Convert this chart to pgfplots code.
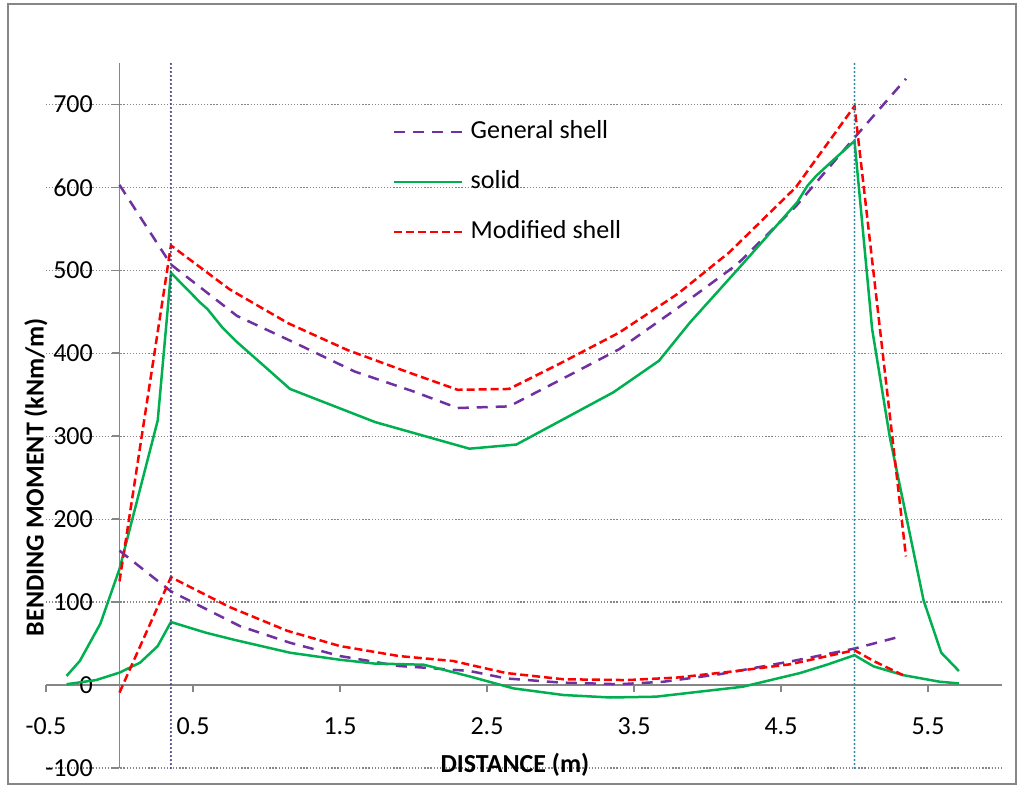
\documentclass[border=0pt]{standalone}
\usepackage{pgfplots}
\pgfplotsset{compat=1.18}
\usepackage{fontspec}
\setmainfont{Carlito}
\definecolor{gshell}{HTML}{7030A0}
\definecolor{solidc}{HTML}{00B050}
\definecolor{mshell}{HTML}{FF0000}
\definecolor{axgray}{HTML}{868686}
\definecolor{vlineA}{HTML}{45397E}
\definecolor{vlineB}{HTML}{31849B}
\begin{document}
\begin{tikzpicture}
\begin{axis}[
  x=147pt, y=0.8294pt,
  xmin=-0.5, xmax=6, ymin=-100, ymax=750,
  clip=false,
  axis lines=middle,
  axis line style={draw=axgray, line width=1.6pt, -},
  hide obscured x ticks=false, hide obscured y ticks=false,
  xtick={-0.5,0.5,1.5,2.5,3.5,4.5,5.5},
  xticklabels={-0.5,0.5,1.5,2.5,3.5,4.5,5.5},
  ytick={-100,0,100,200,300,400,500,600,700},
  yticklabels={-100,0,100,200,300,400,500,600,700},
  tick align=outside, major tick length=7pt,
  tick style={draw=axgray, line width=1.6pt},
  ymajorgrids,
  grid style={draw=axgray, line width=1.3pt, dash pattern=on 1.3pt off 1.8pt},
  xticklabel style={font=\fontsize{26}{30}\selectfont, anchor=center, yshift=-34pt},
  yticklabel style={font=\fontsize{26}{30}\selectfont, anchor=east, inner sep=0pt, xshift=-19.5pt},
  xlabel={\bfseries DISTANCE (m)},
  ylabel={\bfseries BENDING MOMENT (kNm/m)},
  xlabel style={font=\fontsize{26}{30}\selectfont, at={(axis description cs:0.4908,0.0041)}, anchor=center},
  ylabel style={font=\fontsize{26}{30}\selectfont, at={(axis description cs:-0.0105,0.4127)}, anchor=center, rotate=90},
  legend style={draw=none, fill=none, at={(axis description cs:0.3632,0.9205)}, anchor=north west,
    inner sep=0pt, row sep=24pt, column sep=7pt, font=\fontsize{26}{30}\selectfont,
    nodes={inner sep=0pt, text height=19pt, text depth=7pt}},
  legend cell align=left,
  legend image code/.code={\draw[#1] (0pt,0pt) -- (68pt,0pt);},
]
% bounding box and frame
\path (axis cs:-0.8129,-125.32) rectangle (axis cs:6.1054,825.96);
\draw[draw=axgray, line width=1.8pt] (axis cs:-0.7585,-119.3) rectangle (axis cs:6.099,821.1);

\addplot[gshell, line width=2.5pt, dash pattern=on 11pt off 8pt] coordinates {
(0,603) (0.35,507) (0.8,445) (1.2,412) (1.6,378) (2.0,354) (2.3,334) (2.65,336) (3.0,368) (3.4,405) (3.8,455) (4.2,507) (4.6,577) (5.0,660) (5.35,731)};
\addlegendentry{General shell}
\addplot[solidc, line width=2.5pt] coordinates {
(-0.36,11) (-0.27,29) (-0.13,74) (0,140) (0.26,319) (0.35,497) (0.55,461) (0.6,453) (0.7,431) (0.79,415) (1.02,379) (1.16,357) (1.74,317) (2.38,285) (2.7,290) (3.36,353) (3.67,391) (3.88,437) (4.22,504) (4.61,582) (4.68,602) (4.74,614) (4.85,632) (5.0,656) (5.12,429) (5.24,299) (5.47,102) (5.59,39) (5.71,17)};
\addlegendentry{solid}
\addplot[mshell, line width=2.5pt, dash pattern=on 8pt off 4pt] coordinates {
(0,125) (0.35,530) (0.75,477) (1.15,436) (1.55,404) (1.95,378) (2.3,356) (2.65,357) (3.0,388) (3.4,425) (3.8,472) (4.15,522) (4.6,600) (5.0,698) (5.35,155)};
\addlegendentry{Modified shell}

\addplot[gshell, line width=2.5pt, dash pattern=on 11pt off 8pt, forget plot] coordinates {
(0,162) (0.35,113) (0.82,71) (1.16,51) (1.5,35) (1.9,23) (2.07,21) (2.38,17) (2.63,8) (3.0,3) (3.4,1) (3.7,4) (4.08,13) (4.58,29) (5.0,44) (5.3,58)};
\addplot[solidc, line width=2.5pt, forget plot] coordinates {
(-0.36,1) (-0.16,6) (0,15) (0.14,27) (0.26,47) (0.35,76) (0.59,63) (0.77,55) (1.16,39) (1.5,30.5) (1.73,26) (2.07,24.5) (2.38,10.5) (2.68,-4) (3.02,-12) (3.34,-15) (3.65,-14) (4.24,-2) (4.63,14.5) (4.82,25) (5.0,36) (5.13,22.5) (5.33,12) (5.58,4) (5.71,2)};
\addplot[mshell, line width=2.5pt, dash pattern=on 8pt off 4pt, forget plot] coordinates {
(0,-9) (0.35,130) (0.75,94) (1.14,65.5) (1.5,47) (1.9,35) (2.27,29) (2.63,14.5) (3.02,7) (3.45,6) (3.79,9) (4.2,17) (4.56,25) (5.0,42) (5.13,29) (5.33,12)};

\addplot[vlineA, line width=2.4pt, line cap=round, dash pattern=on 0pt off 4pt, forget plot] coordinates {(0.35,-100) (0.35,750)};
\addplot[vlineB, line width=2.4pt, line cap=round, dash pattern=on 0pt off 4pt, forget plot] coordinates {(5.0,-100) (5.0,750)};
\end{axis}
\end{tikzpicture}
\end{document}
